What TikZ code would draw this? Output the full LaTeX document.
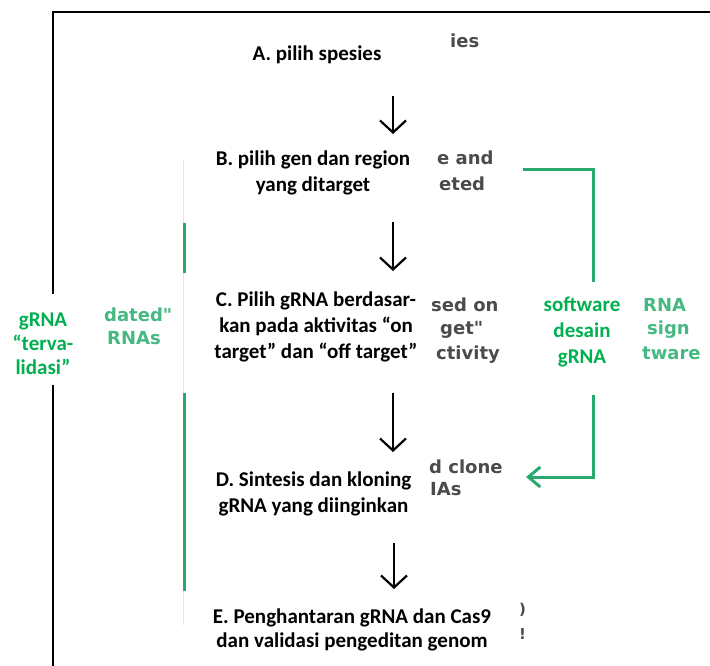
\documentclass[tikz,border=0pt]{standalone}
\usepackage{fontspec}
\setmainfont{Carlito}
\newfontfamily\ghostfont{DejaVu Sans}
\usetikzlibrary{arrows.meta}
\definecolor{txtgreen}{RGB}{0,176,80}
\definecolor{linegreen}{RGB}{40,170,110}
\definecolor{ghostgray}{RGB}{75,75,75}
\definecolor{ghostgreen}{RGB}{70,185,130}
\begin{document}
\begin{tikzpicture}[x=1pt,y=-1pt,
  steptext/.style={font=\bfseries\fontsize{21}{26}\selectfont, align=center, inner sep=0pt},
  greentext/.style={steptext, text=txtgreen},
  ghost/.style={font=\ghostfont\bfseries\fontsize{18}{24}\selectfont, text=ghostgray, inner sep=0pt, anchor=west},
  ghostg/.style={ghost, text=ghostgreen},
  flow/.style={line width=2.2pt, -{Straight Barb[length=12pt,width=26pt,line width=2.2pt]}},
  framel/.style={line width=2pt},
  bracket/.style={line width=3pt, linegreen},
  bracketarrow/.style={bracket, -{Straight Barb[length=12pt,width=20pt,line width=3pt]}},
  faint/.style={line width=1pt, linegreen!20}
]
\useasboundingbox (0,0) rectangle (710,666);
% frame
\coordinate (f1) at (53,294);
\coordinate (f2) at (53,12);
\coordinate (f3) at (710,12);
\coordinate (f4) at (53,385);
\coordinate (f5) at (53,666);
\draw[framel] (f1) -- (f2) -- (f3);
\draw[framel] (f4) -- (f5);
% left green bracket
\coordinate (g0) at (183,160);
\coordinate (g1) at (184,223);
\coordinate (g2) at (184,273);
\coordinate (g3) at (184,393);
\coordinate (g4) at (184,591);
\coordinate (g5) at (183,625);
\draw[faint] (g0) -- (g5);
\draw[bracket] (g1) -- (g2);
\draw[bracket] (g3) -- (g4);
% ghost fragments
\node[ghost] (q1) at (450,41) {ies};
\node[ghost] (q2) at (437,158) {e and};
\node[ghost] (q3) at (439,184) {eted};
\node[ghost] (q4) at (431,305) {sed on};
\node[ghost] (q5) at (440,330) {get"};
\node[ghost] (q6) at (436,355) {ctivity};
\node[ghost] (q7) at (429,467) {d clone};
\node[ghost] (q8) at (430,489) {IAs};
\node[ghost, text=ghostgreen] (q9) at (104,315) {dated"};
\node[ghost, text=ghostgreen] (q10) at (107,338) {RNAs};
\node[ghostg] (q11) at (643,305) {RNA};
\node[ghostg] (q12) at (647,330) {sign};
\node[ghostg] (q13) at (642,353) {tware};
\node[ghost, font=\ghostfont\bfseries\fontsize{15}{16}\selectfont] (q14) at (519,610) {)};
\node[ghost, font=\ghostfont\bfseries\fontsize{15}{16}\selectfont] (q15) at (519,634) {!};
% main steps
\node[steptext] (A) at (317,55) {A. pilih spesies};
\node[steptext] (B) at (313,173) {B. pilih gen dan region\\yang ditarget};
\node[steptext] (C) at (316,327) {C. Pilih gRNA berdasar-\\kan pada aktivitas “on\\target” dan “off target”};
\node[steptext] (D) at (313.5,494) {D. Sintesis dan kloning\\gRNA yang diinginkan};
\node[steptext, font=\bfseries\fontsize{21}{24}\selectfont] (E) at (352,630) {E. Penghantaran gRNA dan Cas9\\dan validasi pengeditan genom};
\node[greentext] (S) at (582,332) {software\\desain\\gRNA};
\node[greentext, font=\bfseries\fontsize{21}{24}\selectfont] (V) at (43,344) {gRNA\\“terva-\\lidasi”};
% flow arrows
\coordinate (a1s) at (393,96);
\coordinate (a1e) at (393,134);
\coordinate (a2s) at (393,222);
\coordinate (a2e) at (393,271);
\coordinate (a3s) at (393,393);
\coordinate (a3e) at (393,452);
\coordinate (a4s) at (394,543);
\coordinate (a4e) at (394,589);
\draw[flow] (a1s) -- (a1e);
\draw[flow] (a2s) -- (a2e);
\draw[flow] (a3s) -- (a3e);
\draw[flow] (a4s) -- (a4e);
% software bracket
\coordinate (s1) at (523,170);
\coordinate (s2) at (593,170);
\coordinate (s3) at (593,282);
\coordinate (s4) at (593,395);
\coordinate (s5) at (593,477);
\coordinate (s6) at (526,477);
\draw[bracket] (s1) -- (s2) -- (s3);
\draw[bracketarrow] (s4) -- (s5) -- (s6);
\end{tikzpicture}
\end{document}
